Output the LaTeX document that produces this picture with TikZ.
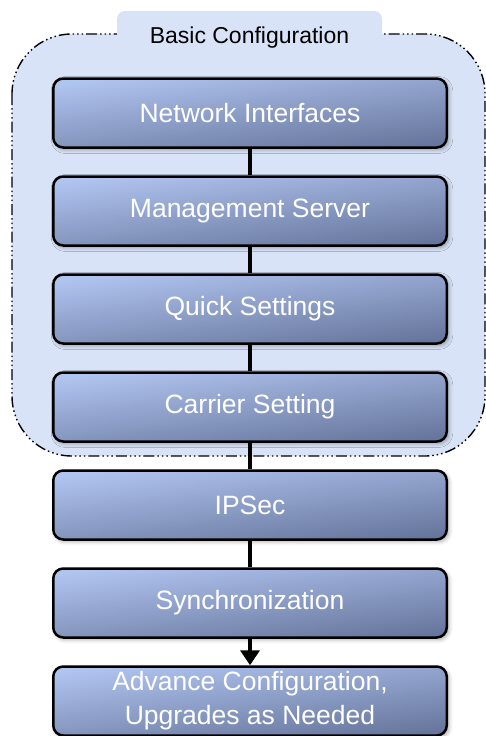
\documentclass[tikz,border=0pt]{standalone}
\usepackage{fontspec}
\setmainfont{Liberation Sans}
\usetikzlibrary{arrows.meta,positioning,shadows.blur}

\definecolor{groupfill}{HTML}{D9E3F7}
\definecolor{boxlight}{HTML}{B0C4F0}
\definecolor{boxdark}{HTML}{67769C}

\tikzset{
  stagebox/.style={draw=black, line width=2.5pt, rounded corners=10pt,
    top color=boxlight, bottom color=boxdark, shading angle=7,
    minimum width=393.5pt, minimum height=69pt, align=center,
    text=white, font=\fontsize{26.5}{34}\selectfont,
    blur shadow={shadow xshift=2pt, shadow yshift=-2pt,
      shadow blur radius=4pt, shadow opacity=35}},
  link/.style={line width=4pt},
  groupline/.style={line width=1.4pt, rounded corners=60pt,
    dash pattern=on 11pt off 3pt on 1.5pt off 3pt on 1.5pt off 3pt on 1.5pt off 3pt},
}

\begin{document}
\begin{tikzpicture}[x=1pt, y=-1pt, node distance=26.5pt]
    \useasboundingbox (0,0) rectangle (486,736);
    % group background
    \fill[groupfill, rounded corners=60pt] (12,34) rectangle (485,456);
    \draw[groupline] (12,34) rectangle (485,456);
    \fill[groupfill, rounded corners=8pt] (117,11) rectangle (382,46);
    \node[font=\fontsize{23}{28}\selectfont, anchor=base] (grouptitle) at (249.5,43) {Basic Configuration};
    % stages
    \node[stagebox] (netif) at (250,113) {Network Interfaces};
    \node[stagebox, below=of netif] (mgmt) {Management Server};
    \node[stagebox, below=of mgmt] (quick) {Quick Settings};
    \node[stagebox, below=of quick] (carrier) {Carrier Setting};
    \node[stagebox, below=of carrier] (ipsec) {IPSec};
    \node[stagebox, below=of ipsec] (sync) {Synchronization};
    \node[stagebox, below=of sync] (advance) {Advance Configuration,\\Upgrades as Needed};
    % connectors
    \draw[link] (netif) -- (mgmt);
    \draw[link] (mgmt) -- (quick);
    \draw[link] (quick) -- (carrier);
    \draw[link] (carrier) -- (ipsec);
    \draw[link] (ipsec) -- (sync);
    \draw[link, -{Triangle[length=15pt,width=19pt]}] (sync) -- (advance);
\end{tikzpicture}
\end{document}
